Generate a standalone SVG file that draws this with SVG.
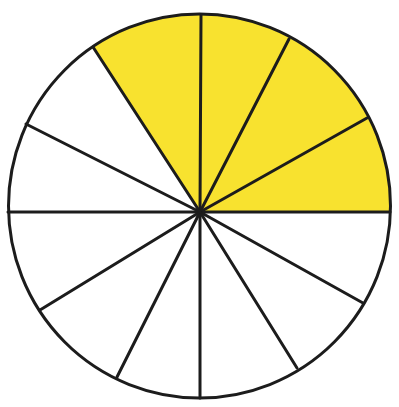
<svg xmlns="http://www.w3.org/2000/svg" width="399" height="407" viewBox="0 0 399 407">
  <style>
    .ln { stroke: #1c1c1c; stroke-width: 3; fill: none; stroke-linecap: round; }
    .fill { fill: #F8E22F; stroke: none; }
  </style>
  <rect width="399" height="407" fill="#ffffff"/>
  <g id="shaded">
    <path class="fill" d="M200,212 L390,212 A191,192 0 0 0 93,47 Z"/>
  </g>
  <g id="spokes" class="ln">
    <line x1="200" y1="212" x2="201" y2="15"/>
    <line x1="200" y1="212" x2="289" y2="39"/>
    <line x1="200" y1="212" x2="367" y2="118"/>
    <line x1="200" y1="212" x2="390" y2="212"/>
    <line x1="200" y1="212" x2="363" y2="303"/>
    <line x1="200" y1="212" x2="297" y2="368"/>
    <line x1="200" y1="212" x2="200" y2="398"/>
    <line x1="200" y1="212" x2="117" y2="377"/>
    <line x1="200" y1="212" x2="40" y2="310"/>
    <line x1="200" y1="212" x2="8" y2="212"/>
    <line x1="200" y1="212" x2="26" y2="124"/>
    <line x1="200" y1="212" x2="93" y2="47"/>
  </g>
  <g id="outline">
    <ellipse class="ln" cx="199.5" cy="206" rx="191" ry="192"/>
  </g>
</svg>
